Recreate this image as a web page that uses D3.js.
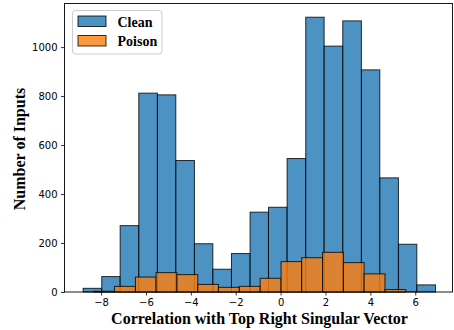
<!DOCTYPE html>
<html><head><meta charset="utf-8">
<script src="https://cdn.jsdelivr.net/npm/d3@7"></script>
<style>html,body{margin:0;padding:0;background:#fff;}svg{display:block;}</style>
</head><body>
<svg id="chart" width="454" height="330"></svg>
<script>
// Data
const cleanEdges = [-8.80, -7.97, -7.15, -6.32, -5.49, -4.67, -3.84, -3.02, -2.19, -1.36, -0.54, 0.29, 1.12, 1.94, 2.77, 3.60, 4.42, 5.25, 6.07, 6.90];
const cleanCounts = [15, 63, 271, 812, 805, 537, 197, 93, 157, 326, 346, 545, 1122, 1004, 1107, 907, 466, 195, 29];
const poisonEdges = [-8.33, -7.40, -6.47, -5.55, -4.62, -3.69, -2.77, -1.84, -0.91, 0.02, 0.94, 1.87, 2.80, 3.72, 4.65, 5.58];
const poisonCounts = [3, 23, 61, 79, 71, 31, 19, 23, 56, 124, 140, 162, 120, 74, 10];
const xTicks = [-8, -6, -4, -2, 0, 2, 4, 6];
const yTicks = [0, 200, 400, 600, 800, 1000];
const seriesNames = ["Clean", "Poison"];
const seriesColors = ["#1f77b4", "#ff7f0e"];

const svg = d3.select("#chart");
const L = 64.5, R = 452.5, T = 3.5, B = 292;
const x = d3.scaleLinear().domain([-9.63, 7.66]).range([L, R]);
const y = d3.scaleLinear().domain([0, 1178]).range([B, T]);

function bins(edges, counts) {
  return counts.map((c, i) => ({x0: edges[i], x1: edges[i + 1], c}));
}
const series = [bins(cleanEdges, cleanCounts), bins(poisonEdges, poisonCounts)];

series.forEach((s, k) => {
  svg.append("g").selectAll("rect").data(s).enter().append("rect")
    .attr("x", d => x(d.x0))
    .attr("width", d => x(d.x1) - x(d.x0))
    .attr("y", d => y(d.c))
    .attr("height", d => y(0) - y(d.c))
    .attr("fill", seriesColors[k]).attr("fill-opacity", 0.8)
    .attr("stroke", "#000").attr("stroke-opacity", 0.8).attr("stroke-width", 1);
});

// Axes
const fontTick = "'DejaVu Sans', sans-serif";
const xAxis = d3.axisBottom(x).tickValues(xTicks).tickSize(3.5).tickPadding(3.5)
  .tickFormat(d => d < 0 ? "\u2212" + Math.abs(d) : String(d));
const gx = svg.append("g").attr("transform", `translate(0,${B})`).call(xAxis);
const yAxis = d3.axisLeft(y).tickValues(yTicks).tickSize(3.5).tickPadding(3.5)
  .tickFormat(d => String(d));
const gy = svg.append("g").attr("transform", `translate(${L},0)`).call(yAxis);
[gx, gy].forEach(g => {
  g.select(".domain").remove();
  g.selectAll("text").attr("font-family", fontTick).attr("font-size", 10).attr("fill", "#000");
  g.selectAll("line").attr("stroke", "#000").attr("stroke-width", 0.8);
});

// Frame
svg.append("rect").attr("x", L).attr("y", T).attr("width", R - L).attr("height", B - T)
  .attr("fill", "none").attr("stroke", "#000").attr("stroke-width", 0.9);

// Labels
const serif = "'Liberation Serif', 'Times New Roman', serif";
svg.append("text").attr("x", 259.5).attr("y", 323.5).attr("text-anchor", "middle")
  .attr("font-family", serif).attr("font-weight", "bold").attr("font-size", 16)
  .text("Correlation with Top Right Singular Vector");
svg.append("text").attr("transform", "translate(25,149) rotate(-90)").attr("text-anchor", "middle")
  .attr("font-family", serif).attr("font-weight", "bold").attr("font-size", 16)
  .text("Number of Inputs");

// Legend
const lg = svg.append("g");
lg.append("rect").attr("x", 72.5).attr("y", 10.5).attr("width", 89.5).attr("height", 43.5)
  .attr("rx", 3).attr("fill", "#fff").attr("fill-opacity", 0.8)
  .attr("stroke", "#ccc").attr("stroke-width", 1);
seriesNames.forEach((n, i) => {
  const yy = 16 + i * 19.5;
  lg.append("rect").attr("x", 78).attr("y", yy).attr("width", 28).attr("height", 10.5)
    .attr("fill", seriesColors[i]).attr("fill-opacity", 0.8)
    .attr("stroke", "#000").attr("stroke-opacity", 0.8).attr("stroke-width", 1);
  lg.append("text").attr("x", 117.5).attr("y", yy + 10.5)
    .attr("font-family", serif).attr("font-weight", "bold").attr("font-size", 14)
    .text(n);
});
</script>
</body></html>
